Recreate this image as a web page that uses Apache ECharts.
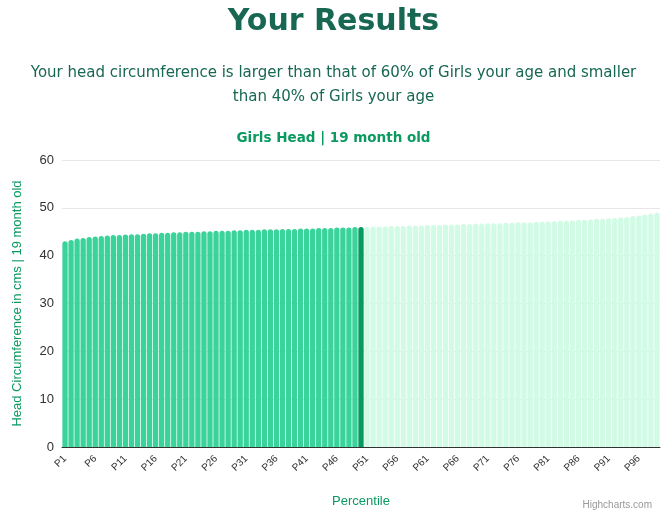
<!DOCTYPE html><html><head><meta charset="utf-8"><script src="https://cdn.jsdelivr.net/npm/echarts@6/dist/echarts.min.js"></script>
<style>html,body{margin:0;padding:0;background:#fff}#c{width:667px;height:519px}</style></head><body><div id="c"></div><script>
const lowerValues=[43.0,43.3,43.6,43.7,43.9,44.0,44.1,44.2,44.3,44.3,44.4,44.5,44.5,44.6,44.7,44.7,44.8,44.8,44.9,44.9,45.0,45.0,45.0,45.1,45.1,45.2,45.2,45.2,45.3,45.3,45.4,45.4,45.4,45.5,45.5,45.5,45.6,45.6,45.6,45.7,45.7,45.7,45.8,45.8,45.8,45.9,45.9,45.9,46.0];
const userValue=46.0;
const upperValues=[46.0,46.1,46.1,46.1,46.2,46.2,46.2,46.3,46.3,46.3,46.4,46.4,46.4,46.5,46.5,46.5,46.6,46.6,46.7,46.7,46.8,46.8,46.8,46.9,46.9,47.0,47.0,47.0,47.1,47.1,47.2,47.2,47.3,47.3,47.4,47.5,47.5,47.6,47.7,47.7,47.8,47.9,48.0,48.1,48.3,48.4,48.6,48.8,49.0];
const categories=[];for(let i=1;i<=99;i++)categories.push('P'+i);
const yTicks=[0,10,20,30,40,50,60];
const data=[];
lowerValues.forEach(v=>data.push({value:v,itemStyle:{color:'#3ad39b'}}));
data.push({value:userValue,itemStyle:{color:'#069a5e'}});
upperValues.forEach(v=>data.push({value:v,itemStyle:{color:'#d2fbe6'}}));
const ch=echarts.init(document.getElementById('c'));
ch.setOption({animation:false,
title:[{text:'Your Results',left:'center',top:2,textStyle:{fontFamily:'DejaVu Sans',fontSize:30,fontWeight:'bold',color:'#176753'}},
{text:'Your head circumference is larger than that of 60% of Girls your age and smaller\nthan 40% of Girls your age',left:'center',top:56,textStyle:{fontFamily:'DejaVu Sans',fontSize:15,fontWeight:'normal',color:'#176753',lineHeight:24,align:'center'}},
{text:'Girls Head | 19 month old',left:'center',top:126,textStyle:{fontFamily:'DejaVu Sans',fontSize:13.5,fontWeight:'bold',color:'#0a9a60'}},
{text:'Highcharts.com',right:10,bottom:4,textStyle:{fontSize:10,fontWeight:'normal',color:'#999'}}],
grid:{left:62,right:7,top:160,bottom:72},
xAxis:{type:'category',data:categories,name:'Percentile',nameLocation:'middle',nameGap:48,nameTextStyle:{color:'#0a9a60',fontSize:13},
axisLine:{lineStyle:{color:'#333'}},axisTick:{show:false},
axisLabel:{interval:4,rotate:45,color:'#333',fontSize:10,margin:10}},
yAxis:{type:'value',min:0,max:60,interval:10,name:'Head Circumference in cms | 19 month old',nameLocation:'middle',nameGap:38,nameTextStyle:{color:'#0a9a60',fontSize:13},
axisLabel:{color:'#333',fontSize:13,formatter:v=>yTicks.includes(v)?String(v):''},splitLine:{lineStyle:{color:'#e6e6e6'}}},
series:[{type:'bar',data:data,barCategoryGap:'12%',itemStyle:{borderRadius:[3,3,0,0]}}]});
</script></body></html>
